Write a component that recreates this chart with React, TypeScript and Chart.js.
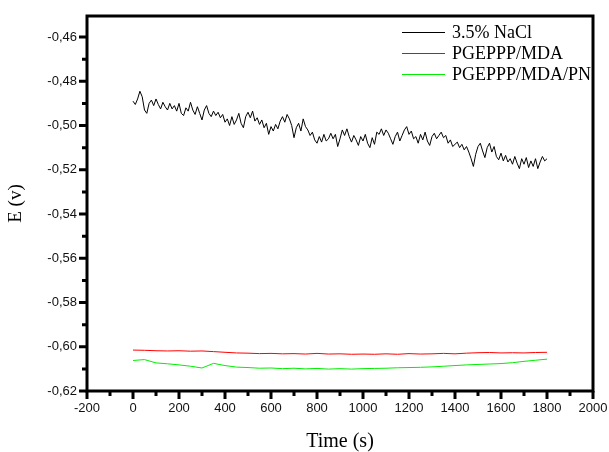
import React, { useEffect, useRef } from 'react';
import { Chart, registerables } from 'chart.js';
Chart.register(...registerables);

const seriesLabels = ['3.5% NaCl', 'PGEPPP/MDA', 'PGEPPP/MDA/PN'];
const seriesColors = ['#000000', '#ff0000', '#00ee00'];

// 3.5% NaCl, sampled every 10 s from 0 to 1800 s
const naclStep = 10;
const naclValues = [
  -0.4890, -0.4905, -0.4880, -0.4845, -0.4870, -0.4930, -0.4945, -0.4900, -0.4885, -0.4910,
  -0.4880, -0.4905, -0.4925, -0.4895, -0.4915, -0.4930, -0.4900, -0.4925, -0.4910, -0.4935,
  -0.4900, -0.4945, -0.4955, -0.4920, -0.4935, -0.4895, -0.4930, -0.4950, -0.4915, -0.4945,
  -0.4975, -0.4930, -0.4910, -0.4945, -0.4960, -0.4935, -0.4955, -0.4940, -0.4965, -0.4950,
  -0.4985, -0.4970, -0.5000, -0.4960, -0.4995, -0.4975, -0.4945, -0.4990, -0.5010, -0.4960,
  -0.4940, -0.4965, -0.4935, -0.4980, -0.4965, -0.4995, -0.4975, -0.5010, -0.4990, -0.5040,
  -0.5005, -0.5025, -0.4995, -0.5015, -0.4980, -0.4960, -0.4985, -0.4950, -0.4970, -0.5000,
  -0.5055, -0.5010, -0.4990, -0.5025, -0.4970, -0.5005, -0.5020, -0.5045, -0.5030, -0.5065,
  -0.5080, -0.5050, -0.5075, -0.5040, -0.5070, -0.5060, -0.5035, -0.5060, -0.5040, -0.5095,
  -0.5060, -0.5020, -0.5045, -0.5015, -0.5050, -0.5075, -0.5045, -0.5065, -0.5090, -0.5050,
  -0.5070, -0.5040, -0.5080, -0.5100, -0.5055, -0.5085, -0.5030, -0.5040, -0.5015, -0.5045,
  -0.5020, -0.5035, -0.5060, -0.5085, -0.5050, -0.5030, -0.5070, -0.5045, -0.5020, -0.5005,
  -0.5040, -0.5025, -0.5060, -0.5050, -0.5080, -0.5040, -0.5065, -0.5030, -0.5070, -0.5090,
  -0.5050, -0.5035, -0.5060, -0.5045, -0.5030, -0.5055, -0.5045, -0.5080, -0.5065, -0.5095,
  -0.5085, -0.5075, -0.5100, -0.5085, -0.5110, -0.5095, -0.5120, -0.5150, -0.5185, -0.5130,
  -0.5095, -0.5080, -0.5115, -0.5145, -0.5100, -0.5080, -0.5120, -0.5095, -0.5140, -0.5155,
  -0.5125, -0.5160, -0.5135, -0.5165, -0.5150, -0.5175, -0.5140, -0.5170, -0.5195, -0.5150,
  -0.5175, -0.5145, -0.5190, -0.5160, -0.5185, -0.5150, -0.5195, -0.5165, -0.5140, -0.5160,
  -0.5150,
];

// Coatings, sampled every 50 s from 0 to 1800 s
const coatStep = 50;
const mdaValues = [
  -0.6015, -0.6016, -0.6018, -0.6019, -0.6018, -0.6020, -0.6019, -0.6022, -0.6025, -0.6028,
  -0.6029, -0.6031, -0.6030, -0.6032, -0.6031, -0.6033, -0.6030, -0.6033, -0.6032, -0.6034,
  -0.6033, -0.6034, -0.6032, -0.6034, -0.6031, -0.6033, -0.6032, -0.6030, -0.6032, -0.6029,
  -0.6027, -0.6026, -0.6028, -0.6027, -0.6028, -0.6026, -0.6025,
];
const pnValues = [
  -0.6062, -0.6058, -0.6073, -0.6077, -0.6082, -0.6088, -0.6096, -0.6075, -0.6085, -0.6092,
  -0.6094, -0.6097, -0.6096, -0.6099, -0.6097, -0.6100, -0.6098, -0.6101, -0.6099, -0.6101,
  -0.6099, -0.6098, -0.6097, -0.6095, -0.6094, -0.6093, -0.6091, -0.6088, -0.6085, -0.6082,
  -0.6080, -0.6078, -0.6076, -0.6072, -0.6066, -0.6061, -0.6056,
];

const xTickValues = [-200, 0, 200, 400, 600, 800, 1000, 1200, 1400, 1600, 1800, 2000];
const xMinorValues = [-100, 100, 300, 500, 700, 900, 1100, 1300, 1500, 1700, 1900];
const yTickValues = [-0.62, -0.6, -0.58, -0.56, -0.54, -0.52, -0.5, -0.48, -0.46];
const yMinorValues = [-0.61, -0.59, -0.57, -0.55, -0.53, -0.51, -0.49, -0.47];

const xMin = -200;
const xMax = 2000;
const yMin = -0.62;
const yMax = -0.4505;

const frameAndLegend = {
  id: 'frameAndLegend',
  afterDraw(chart: any) {
    const { ctx, chartArea } = chart;
    const { left, right, top, bottom } = chartArea;
    const xs = chart.scales.x;
    const ys = chart.scales.y;
    ctx.save();
    ctx.strokeStyle = '#000';
    ctx.lineWidth = 3;
    ctx.strokeRect(left, top, right - left, bottom - top);
    ctx.lineWidth = 3;
    ctx.beginPath();
    xTickValues.forEach((v) => {
      const p = xs.getPixelForValue(v);
      ctx.moveTo(p, bottom);
      ctx.lineTo(p, bottom + 8);
    });
    xMinorValues.forEach((v) => {
      const p = xs.getPixelForValue(v);
      ctx.moveTo(p, bottom);
      ctx.lineTo(p, bottom + 5);
    });
    yTickValues.forEach((v) => {
      const p = ys.getPixelForValue(v);
      ctx.moveTo(left, p);
      ctx.lineTo(left - 8, p);
    });
    yMinorValues.forEach((v) => {
      const p = ys.getPixelForValue(v);
      ctx.moveTo(left, p);
      ctx.lineTo(left - 5, p);
    });
    ctx.stroke();

    // legend
    const lx = right - 191;
    const rows = [top + 16, top + 37, top + 58];
    ctx.font = '18px "Liberation Serif", "Times New Roman", serif';
    ctx.textBaseline = 'middle';
    ctx.textAlign = 'left';
    seriesLabels.forEach((lab, i) => {
      ctx.strokeStyle = seriesColors[i];
      ctx.lineWidth = 1;
      ctx.beginPath();
      ctx.moveTo(lx, rows[i] + 0.5);
      ctx.lineTo(lx + 43, rows[i] + 0.5);
      ctx.stroke();
      ctx.fillStyle = '#000';
      ctx.fillText(lab, lx + 50, rows[i] + 1);
    });
    ctx.restore();
  },
};

export default function App() {
  const ref = useRef<HTMLCanvasElement | null>(null);
  useEffect(() => {
    if (!ref.current) return;
    const mk = (vals: number[], step: number) => vals.map((y, i) => ({ x: i * step, y }));
    const tickFont = { family: '"Liberation Sans", Arial, sans-serif', size: 13 };
    const chart = new Chart(ref.current, {
      type: 'line',
      data: {
        datasets: [
          { label: seriesLabels[0], data: mk(naclValues, naclStep), borderColor: seriesColors[0], borderWidth: 1 },
          { label: seriesLabels[1], data: mk(mdaValues, coatStep), borderColor: seriesColors[1], borderWidth: 1 },
          { label: seriesLabels[2], data: mk(pnValues, coatStep), borderColor: seriesColors[2], borderWidth: 1 },
        ],
      },
      options: {
        animation: false,
        responsive: false,
        layout: { padding: { top: 16, right: 16, left: 0, bottom: 0 } },
        elements: { point: { radius: 0 }, line: { tension: 0 } },
        plugins: { legend: { display: false }, tooltip: { enabled: false } },
        scales: {
          x: {
            type: 'linear',
            min: xMin,
            max: xMax,
            grid: { display: false, drawTicks: false },
            border: { display: false },
            afterBuildTicks: (s: any) => { s.ticks = xTickValues.map((v) => ({ value: v })); },
            afterFit: (s: any) => { s.height = 61; s.paddingRight = 0; s.paddingLeft = 0; },
            ticks: {
              font: tickFont,
              color: '#111',
              padding: 10,
              maxRotation: 0,
              autoSkip: false,
              callback: (v: any) => String(v),
            },
            title: {
              display: true,
              text: 'Time (s)',
              color: '#000',
              font: { family: '"Liberation Serif", "Times New Roman", serif', size: 20, lineHeight: 1 },
              padding: { top: 0, bottom: 0 },
            },
          },
          y: {
            type: 'linear',
            min: yMin,
            max: yMax,
            grid: { display: false, drawTicks: false },
            border: { display: false },
            afterBuildTicks: (s: any) => { s.ticks = yTickValues.map((v) => ({ value: v })); },
            afterFit: (s: any) => { s.width = 87; s.paddingTop = 0; s.paddingBottom = 0; },
            ticks: {
              font: tickFont,
              color: '#111',
              padding: 10,
              autoSkip: false,
              callback: (v: any) => Number(v).toFixed(2).replace('.', ','),
            },
            title: {
              display: true,
              text: 'E (v)',
              color: '#000',
              font: { family: '"Liberation Serif", "Times New Roman", serif', size: 19, lineHeight: 1 },
              padding: { top: 7, bottom: 0 },
            },
          },
        },
      },
      plugins: [frameAndLegend],
    } as any);
    return () => chart.destroy();
  }, []);
  return (
    <div style={{ position: 'absolute', left: 0, top: 0, width: 609, height: 452, background: '#fff' }}>
      <canvas ref={ref} width={609} height={452} />
    </div>
  );
}
